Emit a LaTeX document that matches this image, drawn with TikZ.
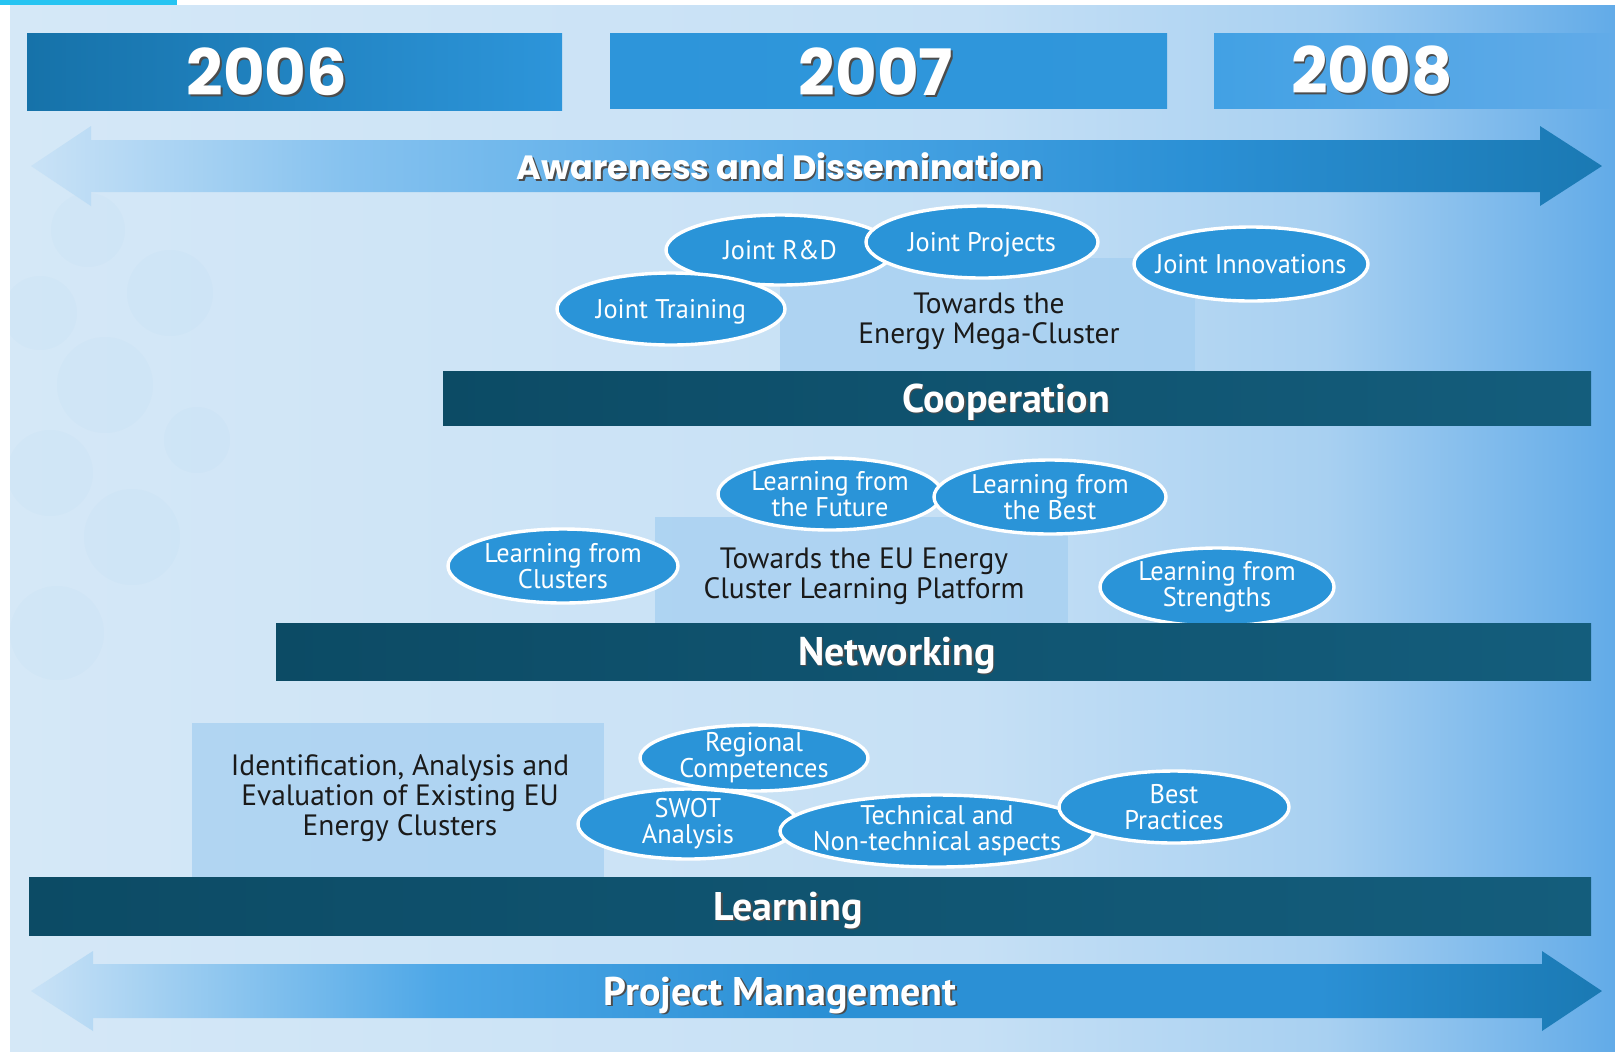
\documentclass[tikz,border=0pt]{standalone}
\usepackage{fontspec}
\usetikzlibrary{shapes.geometric}

\newfontfamily\yearfont{Poppins}
\newfontfamily\condfont[FakeStretch=0.975]{PT Sans}
\newfontfamily\towfont{PT Sans}

\definecolor{bgpale}{HTML}{D5E8F7}
\definecolor{bgmid}{HTML}{C6E0F5}
\definecolor{bgblue}{HTML}{62ABE8}
\definecolor{topcyan}{HTML}{26C4F2}
\definecolor{yeardark}{HTML}{1672A9}
\definecolor{yearmid}{HTML}{2D95DA}
\definecolor{yearlight}{HTML}{42A1E4}
\definecolor{bardark}{HTML}{0C4B65}
\definecolor{barmid}{HTML}{145D7C}
\definecolor{ovalblue}{HTML}{2A94D8}
\definecolor{boxblue}{HTML}{A3CEF1}
\definecolor{arrowpale}{HTML}{C9E2F6}
\definecolor{arrowlight}{HTML}{86C2EF}
\definecolor{arrowmid}{HTML}{4DA7E7}
\definecolor{arrowblue}{HTML}{2B90D5}
\definecolor{arrowdark}{HTML}{1A79B3}
\definecolor{textdark}{HTML}{1A1A1A}

\pgfdeclarehorizontalshading{bgshade}{100bp}{color(0bp)=(bgpale); color(25bp)=(bgpale); color(55bp)=(bgmid); color(66bp)=(bgmid!70!bgblue); color(75bp)=(bgblue); color(100bp)=(bgblue)}
\pgfdeclarehorizontalshading{awareshade}{100bp}{color(0bp)=(arrowpale); color(25bp)=(arrowpale); color(35bp)=(arrowlight); color(49bp)=(arrowmid); color(62bp)=(arrowblue); color(75bp)=(arrowdark); color(100bp)=(arrowdark)}
\pgfdeclarehorizontalshading{pmshade}{100bp}{color(0bp)=(arrowpale); color(25bp)=(arrowpale); color(38bp)=(arrowmid); color(50bp)=(arrowblue); color(66bp)=(arrowblue); color(75bp)=(arrowdark); color(100bp)=(arrowdark)}

% texto branco com sombra
\newcommand\shad[1]{\rlap{\kern.8pt\raisebox{-.8pt}{\textcolor{black!70}{#1}}}#1}

\begin{document}
\begin{tikzpicture}[x=0.5pt, y=-0.5pt,
    oval/.style={ellipse, draw=white, line width=1.7pt, fill=ovalblue, text=white,
        inner xsep=-40pt, inner ysep=-20pt, align=center,
        font=\condfont\fontsize{13.5}{13}\selectfont},
    oneline/.style={text depth=0pt},
    towtext/.style={text=textdark, align=center, font=\towfont\fontsize{14.7}{15}\selectfont},
    bartext/.style={text=white, text depth=0pt, font=\towfont\bfseries\fontsize{20}{20}\selectfont},
    yeartext/.style={text=white, text depth=0pt, font=\yearfont\bfseries\fontsize{32}{32}\selectfont},
    arrowtext/.style={text=white, text depth=0pt, font=\yearfont\bfseries\fontsize{16.8}{17}\selectfont}]
    \useasboundingbox (0,0) rectangle (1615,1051);

    % fundo
    \fill[white] (0,0) rectangle (1615,1051);
    \shade[shading=bgshade] (10,5) rectangle (1615,1051);
    \fill[topcyan] (0,0) rectangle (177,5);
    % circulos claros do fundo
    \begin{scope}
        \clip (10,5) rectangle (1615,1051);
        \foreach \cx/\cy/\r in {88/230/37, 170/293/43, 40/313/37, 105/385/48, 197/440/33,
                                50/473/43, 132/537/48, 57/633/47}
            \fill[bgblue, opacity=0.03] (\cx,\cy) circle (\r);
    \end{scope}

    % anos
    \shade[left color=yeardark, right color=yearmid] (27,33) rectangle (562,110);
    \shade[left color=yearmid, right color=yearmid!85!yearlight] (610,33) rectangle (1167,108);
    \shade[left color=yearlight, right color=bgblue] (1214,33) rectangle (1615,108);
    \node[yeartext] (y2006) at (267,72) {\shad{2006}};
    \node[yeartext] (y2007) at (876,72) {\shad{2007}};
    \node[yeartext] (y2008) at (1372,70) {\shad{2008}};

    % seta de cima
    \shade[shading=awareshade]
        (31,166) -- (91,126) -- (91,140) -- (1540,140) -- (1540,126) -- (1602,166)
        -- (1540,206) -- (1540,192) -- (91,192) -- (91,206) -- cycle;
    \node[arrowtext] (aware) at (780,166) {\shad{Awareness and Dissemination}};

    % Cooperation
    \fill[boxblue, opacity=0.7] (780,258) rectangle (1195,371);
    \node[towtext] (mega) at (989,321) {Towards the\\Energy Mega-Cluster};
    \node[oval, oneline, minimum width=114pt, minimum height=35pt] (jrd) at (780,250) {Joint R\&D};
    \node[oval, oneline, minimum width=116pt, minimum height=36pt] (jproj) at (982,242) {Joint Projects};
    \node[oval, oneline, minimum width=114pt, minimum height=36pt] (jtrain) at (671,309) {Joint Training};
    \node[oval, oneline, minimum width=117pt, minimum height=37pt] (jinnov) at (1251,264) {Joint Innovations};
    \shade[left color=bardark, right color=barmid] (443,371) rectangle (1591,425);
    \node[bartext] (coop) at (1006,398) {\shad{Cooperation}};

    % Networking
    \fill[boxblue, opacity=0.7] (655,517) rectangle (1068,623);
    \node[towtext] (eu) at (864,576) {Towards the EU Energy\\Cluster Learning Platform};
    \node[oval, minimum width=112pt, minimum height=36pt] (lfut) at (830,494) {Learning from\\the Future};
    \node[oval, minimum width=116pt, minimum height=37pt] (lbest) at (1050,497) {Learning from\\the Best};
    \node[oval, minimum width=115pt, minimum height=37pt] (lclus) at (563,566) {Learning from\\Clusters};
    \node[oval, minimum width=117pt, minimum height=39pt] (lstr) at (1217,587) {Learning from\\Strengths};
    \shade[left color=bardark, right color=barmid] (276,623) rectangle (1591,680);
    \node[bartext] (netw) at (897,651) {\shad{Networking}};

    % Learning
    \fill[boxblue, opacity=0.7] (192,723) rectangle (604,877);
    \node[towtext] (ident) at (400,798) {Identification, Analysis and\\Evaluation of Existing EU\\Energy Clusters};
    \node[oval, minimum width=114pt, minimum height=33pt] (regc) at (754,758) {Regional\\Competences};
    \node[oval, minimum width=110pt, minimum height=35pt] (swot) at (688,824) {SWOT\\Analysis};
    \node[oval, minimum width=157pt, minimum height=36pt] (tech) at (937,831) {Technical and\\Non-technical aspects};
    \node[oval, minimum width=115pt, minimum height=36pt] (bprac) at (1174,807) {Best\\Practices};
    \shade[left color=bardark, right color=barmid] (29,877) rectangle (1591,935);
    \node[bartext] (learn) at (788,906) {\shad{Learning}};

    % seta de baixo
    \shade[shading=pmshade]
        (31,991) -- (93,951) -- (93,964) -- (1542,964) -- (1542,951) -- (1602,991)
        -- (1542,1031) -- (1542,1018) -- (93,1018) -- (93,1031) -- cycle;
    \node[bartext] (pm) at (780,991) {\shad{Project Management}};
\end{tikzpicture}
\end{document}
